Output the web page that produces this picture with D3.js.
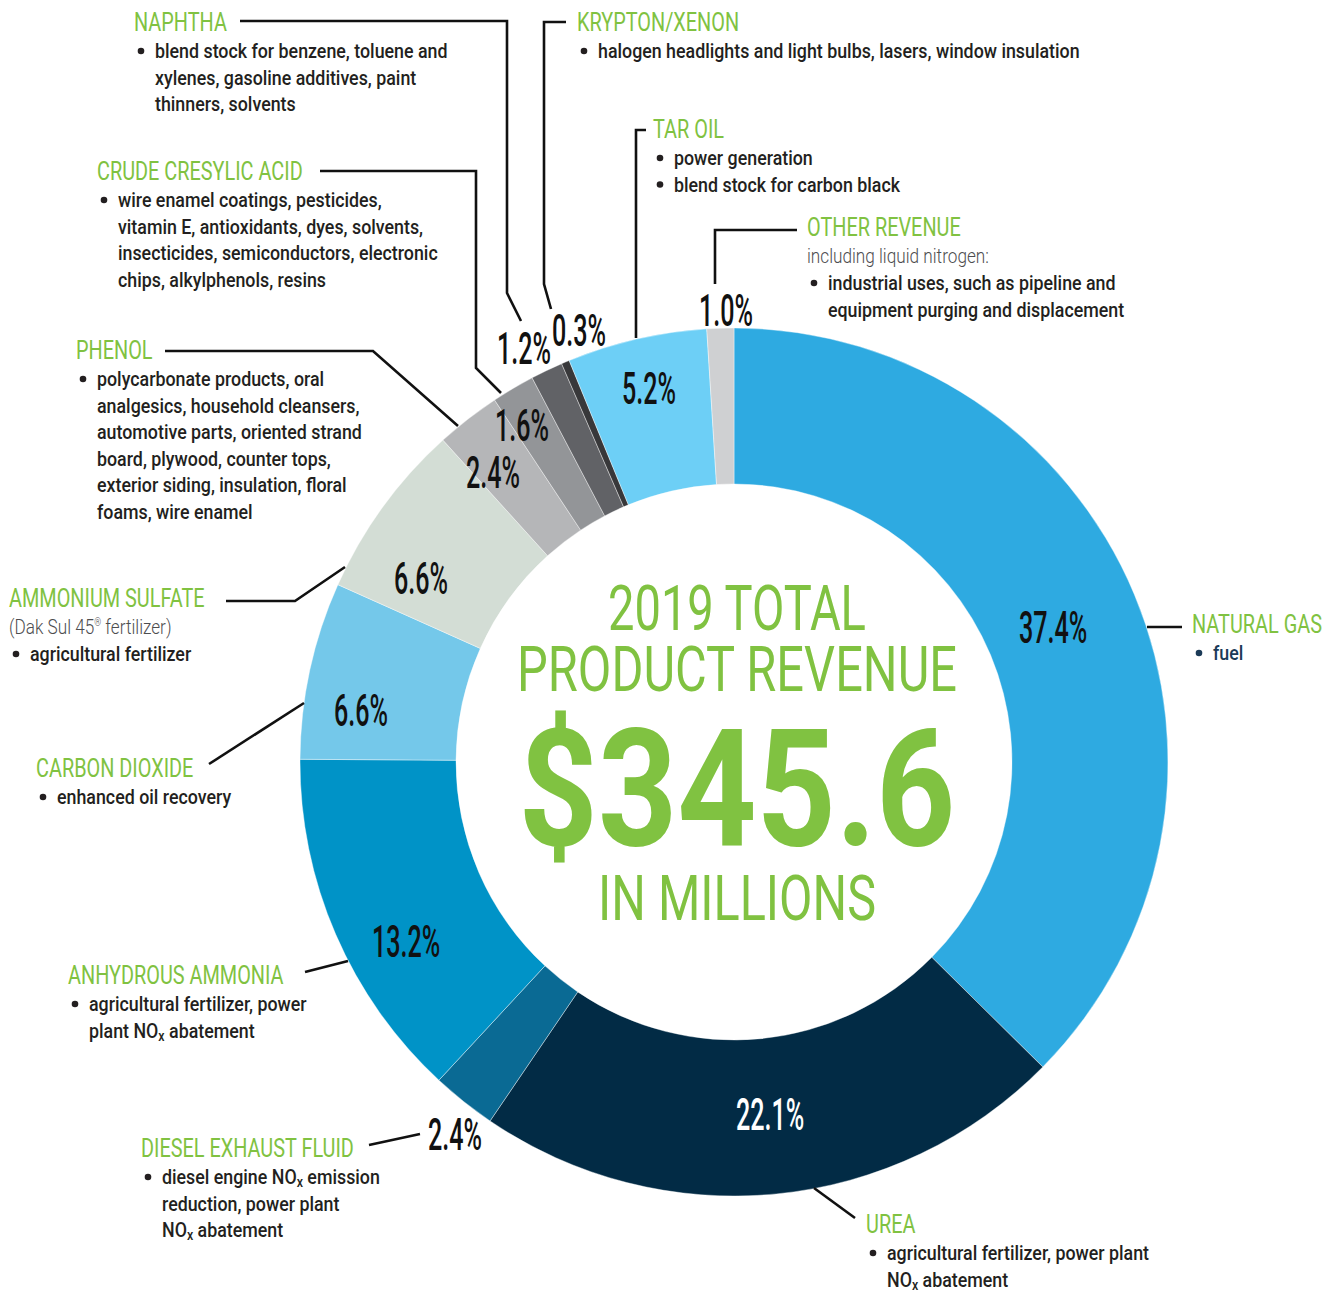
<!DOCTYPE html>
<html>
<head>
<meta charset="utf-8">
<script src="https://cdn.jsdelivr.net/npm/d3@7/dist/d3.min.js"></script>
<style>
  body { margin: 0; background: #fff; }
</style>
</head>
<body>
<div id="chart"></div>
<script>
var width = 1339, height = 1294
var cx = 734, cy = 762
var outerR = 434, innerR = 278

// ---- data ----
var products = ["NATURAL GAS", "UREA", "DIESEL EXHAUST FLUID", "ANHYDROUS AMMONIA", "CARBON DIOXIDE",
                "AMMONIUM SULFATE", "PHENOL", "CRUDE CRESYLIC ACID", "NAPHTHA", "KRYPTON/XENON", "TAR OIL", "OTHER REVENUE"]
var shares = [37.4, 22.1, 2.4, 13.2, 6.6, 6.6, 2.4, 1.6, 1.2, 0.3, 5.2, 1.0]
var sliceColors = ["#2eaae1", "#022b45", "#0a6a94", "#0093c7", "#74c8ea", "#d3ddd5",
                   "#b5b6b8", "#939598", "#616266", "#38383a", "#6dcff6", "#cfd0d2"]
var uses = [
  ["fuel"],
  ["agricultural fertilizer, power plant", "NO_x abatement"],
  ["diesel engine NO_x emission", "reduction, power plant", "NO_x abatement"],
  ["agricultural fertilizer, power", "plant NO_x abatement"],
  ["enhanced oil recovery"],
  ["agricultural fertilizer"],
  ["polycarbonate products, oral", "analgesics, household cleansers,", "automotive parts, oriented strand",
   "board, plywood, counter tops,", "exterior siding, insulation, floral", "foams, wire enamel"],
  ["wire enamel coatings, pesticides,", "vitamin E, antioxidants, dyes, solvents,",
   "insecticides, semiconductors, electronic", "chips, alkylphenols, resins"],
  ["blend stock for benzene, toluene and", "xylenes, gasoline additives, paint", "thinners, solvents"],
  ["halogen headlights and light bulbs, lasers, window insulation"],
  ["power generation", "blend stock for carbon black"],
  ["industrial uses, such as pipeline and", "equipment purging and displacement"]
]
// a new bullet starts on these line indexes
var bulletStarts = [[0], [0], [0], [0], [0], [0], [0], [0], [0], [0], [0, 1], [0]]
var subNotes = ["", "", "", "", "", "(Dak Sul 45® fertilizer)", "", "", "", "", "", "including liquid nitrogen:"]
var centerTitle = ["2019 TOTAL", "PRODUCT REVENUE"]
var totalRevenue = 345.6
var totalUnit = "IN MILLIONS"

// ---- layout (positions of callouts) ----
var headPos = [[1192, 633], [866, 1233], [141, 1157], [68, 984], [36, 777], [9, 607],
               [76, 359], [97, 180], [134, 31], [577, 31], [653, 138], [807, 236]]
var pctPos = [[1053, 627], [770, 1114], [455, 1134], [406, 941], [361, 710], [421, 578],
              [493, 472], [522, 425], [524, 348], [579, 330], [649, 388], [726, 310]]
var leaders = [
  [[1147, 627], [1182, 627]],
  [[855, 1218], [814, 1188]],
  [[369, 1145], [420, 1134]],
  [[305, 972], [348, 961]],
  [[209, 764], [304, 703]],
  [[226, 601], [295, 601], [345, 567]],
  [[165, 351], [373, 351], [458, 426]],
  [[320, 171], [476, 171], [476, 368], [501, 393]],
  [[240, 21], [507, 21], [507, 293], [521, 321]],
  [[566, 22], [544, 22], [544, 284], [551, 309]],
  [[646, 130], [636, 130], [636, 338]],
  [[797, 230], [715, 230], [715, 284]]
]

var green = "#80c241"
var ink = "#231f20"

var svg = d3.select("#chart")
  .append("svg")
  .attr("width", width)
  .attr("height", height)
  .style("background", "#fff")

// measure a string in a given style to get a horizontal squeeze factor
function squeeze(str, size, weight, target) {
  var t = svg.append("text").attr("font-family", "Roboto").attr("font-size", size)
    .attr("font-weight", weight).text(str)
  var w = t.node().getComputedTextLength()
  t.remove()
  return target / w
}

var headStyle = {size: 26.5, weight: 400, fill: green}
headStyle.sx = squeeze("NAPHTHA", 26.5, 400, 93)
var bodyStyle = {size: 21, weight: 500, fill: ink}
bodyStyle.sx = squeeze("blend stock for carbon black", 21, 500, 226)
var lightStyle = {size: 21, weight: 300, fill: "#4d4d4f", sx: squeeze("including liquid nitrogen:", 21, 300, 182)}
var pctStyle = {size: 44, weight: 500, fill: "#111"}
pctStyle.sx = squeeze("5.2%", 44, 500, 54)

function addText(x, y, str, o) {
  var t = svg.append("text")
    .attr("transform", "translate(" + x + "," + y + ") scale(" + o.sx + ",1)")
    .attr("font-family", "Roboto")
    .attr("font-size", o.size)
    .attr("font-weight", o.weight)
    .attr("fill", o.fill)
    .attr("text-anchor", o.anchor || "start")
  var parts = str.split(/(_x|®)/)
  var shift = 0
  parts.forEach(function(p) {
    if (p === "") return
    if (p === "_x") {
      t.append("tspan").attr("dy", 3).attr("font-size", o.size * 0.7).text("x")
      shift = -3
    } else if (p === "®") {
      t.append("tspan").attr("dy", -8 + shift).attr("font-size", o.size * 0.5).text("®")
      shift = 8
    } else {
      t.append("tspan").attr("dy", shift).text(p)
      shift = 0
    }
  })
  return t
}

// ---- donut ----
var pie = d3.pie().sort(null).value(function(d) { return d })
var arc = d3.arc().innerRadius(innerR).outerRadius(outerR)
var arcs = pie(shares)

var ring = svg.append("g").attr("transform", "translate(" + cx + "," + cy + ")")
ring.selectAll("path")
  .data(arcs)
  .enter()
  .append("path")
  .attr("d", arc)
  .attr("fill", function(d, i) { return sliceColors[i] })
  .attr("stroke", "#fff")
  .attr("stroke-width", 0.4)

// ---- leaders ----
var line = d3.line()
svg.selectAll(".leader")
  .data(leaders)
  .enter()
  .append("path")
  .attr("class", "leader")
  .attr("d", line)
  .attr("fill", "none")
  .attr("stroke", "#111")
  .attr("stroke-width", 2.6)

// ---- percent labels ----
arcs.forEach(function(d, i) {
  var o = Object.assign({}, pctStyle, {anchor: "middle"})
  if (i === 1) o.fill = "#fff"
  addText(pctPos[i][0], pctPos[i][1] + 16, d3.format(".1f")(d.data) + "%", o)
})

// ---- callouts ----
products.forEach(function(name, i) {
  var hx = headPos[i][0], hy = headPos[i][1]
  addText(hx, hy, name, headStyle)
  var y = hy + 27
  if (subNotes[i]) {
    addText(hx, y, subNotes[i], lightStyle)
    y += 27
  }
  var bs = Object.assign({}, bodyStyle)
  if (i === 0) bs.fill = "#1b3a57"
  uses[i].forEach(function(l, j) {
    if (bulletStarts[i].indexOf(j) >= 0) {
      svg.append("circle").attr("cx", hx + 7).attr("cy", y - 7).attr("r", 3.3).attr("fill", bs.fill)
    }
    addText(hx + 21, y, l, bs)
    y += 26.5
  })
})

// ---- center text ----
function centerLine(str, y, size, weight, target) {
  var sx = squeeze(str, size, weight, target)
  addText(737, y, str, {size: size, weight: weight, fill: green, sx: sx, anchor: "middle"})
}
centerLine(centerTitle[0], 630, 63, 400, 258)
centerLine(centerTitle[1], 691, 63, 400, 440)
centerLine("$" + d3.format(".1f")(totalRevenue), 845, 164, 700, 437)
centerLine(totalUnit, 920, 63, 400, 278)
</script>
</body>
</html>
